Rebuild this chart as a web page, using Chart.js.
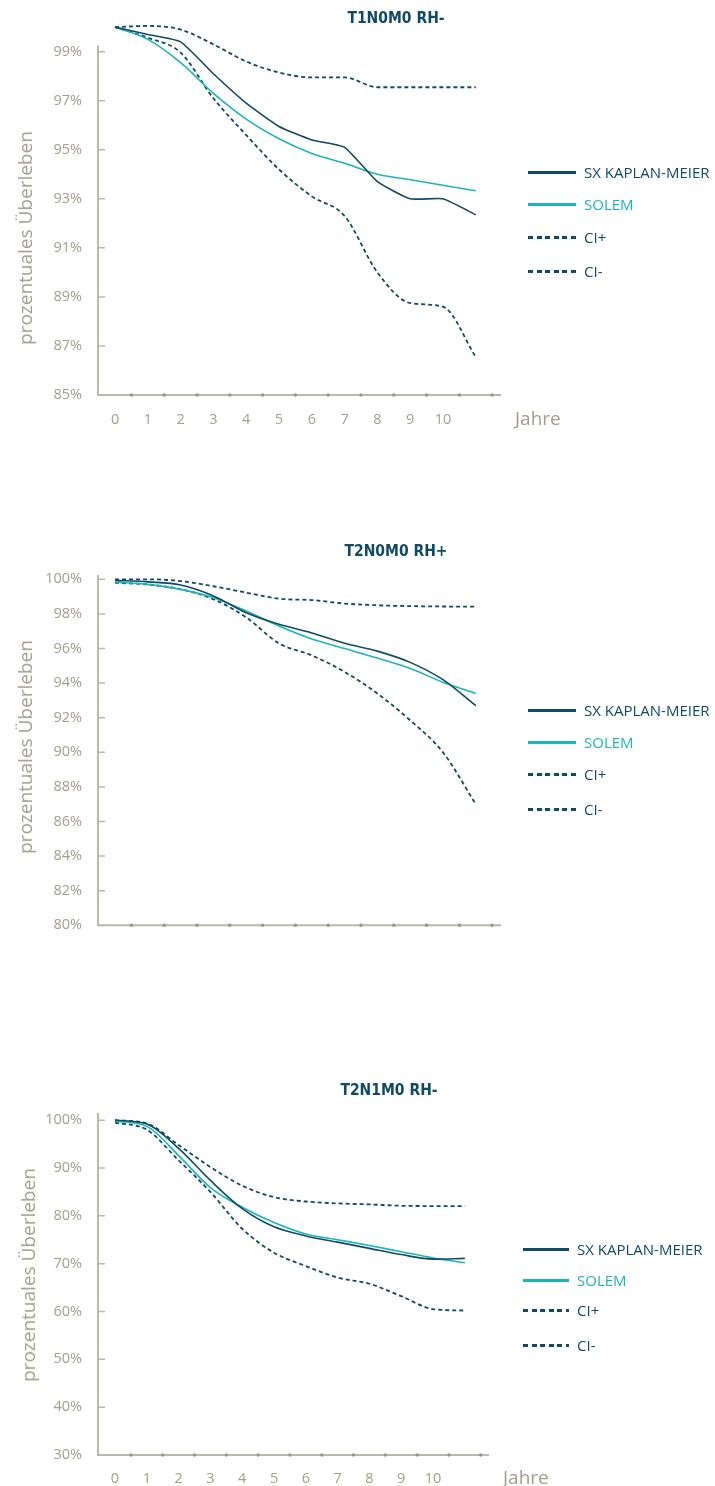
<!DOCTYPE html>
<html>
<head>
<meta charset="utf-8">
<title>Überleben</title>
<script src="https://cdn.jsdelivr.net/npm/chart.js@4.4.0/dist/chart.umd.min.js"></script>
<style>
  body { margin: 0; background: #fff; width: 715px; height: 1486px; position: relative; overflow: hidden; font-family: "Open Sans", sans-serif; }
  .panel { position: absolute; left: 0; width: 715px; }
  .panel canvas { position: absolute; left: 0; top: 0; }
  .title { position: absolute; transform: translate(-50%, -50%); font-family: "DejaVu Sans Condensed", "DejaVu Sans", sans-serif; font-stretch: condensed; font-weight: bold; font-size: 15.5px; color: #0f4a66; white-space: nowrap; }
  .ytitle { position: absolute; transform: translate(-50%, -50%) rotate(-90deg); font-size: 19px; color: #a39f8e; white-space: nowrap; }
  .xtitle { position: absolute; transform: translateY(-50%); font-size: 19px; color: #a39f8e; white-space: nowrap; }
  .legend { position: absolute; }
  .legend .row { position: absolute; left: 0; display: flex; align-items: center; transform: translateY(-50%); white-space: nowrap; font-size: 15px; }
  .legend .swatch { height: 3px; margin-right: 8px; }
</style>
</head>
<body>
<script>
  // data
  const years = [0, 1, 2, 3, 4, 5, 6, 7, 8, 9, 10, 11];
  const yearTicks = [0, 1, 2, 3, 4, 5, 6, 7, 8, 9, 10];
  const seriesNames = ['SX KAPLAN-MEIER', 'SOLEM', 'CI+', 'CI-'];
  const yAxisTitle = 'prozentuales Überleben';
  const xAxisTitle = 'Jahre';

  const t1Title = 'T1N0M0 RH-';
  const t1Ticks = [85, 87, 89, 91, 93, 95, 97, 99];
  const t1Km = [100, 99.7, 99.4, 98.1, 96.9, 95.95, 95.4, 95.1, 93.7, 93.0, 93.0, 92.35];
  const t1Solem = [100, 99.5, 98.55, 97.3, 96.25, 95.45, 94.85, 94.45, 94.0, 93.78, 93.55, 93.33];
  const t1CiPlus = [100, 100.05, 99.9, 99.3, 98.6, 98.15, 97.95, 97.95, 97.55, 97.55, 97.55, 97.55];
  const t1CiMinus = [100, 99.57, 98.96, 97.1, 95.6, 94.2, 93.1, 92.3, 90.0, 88.75, 88.6, 86.55];

  const t2Title = 'T2N0M0 RH+';
  const t2Ticks = [80, 82, 84, 86, 88, 90, 92, 94, 96, 98, 100];
  const t2Km = [99.94, 99.85, 99.67, 99.04, 98.07, 97.4, 96.9, 96.3, 95.85, 95.2, 94.2, 92.7];
  const t2Solem = [99.84, 99.71, 99.42, 98.94, 98.17, 97.3, 96.55, 96.0, 95.45, 94.85, 94.05, 93.4];
  const t2CiPlus = [100, 100, 99.9, 99.6, 99.23, 98.88, 98.8, 98.6, 98.5, 98.45, 98.43, 98.42];
  const t2CiMinus = [99.8, 99.7, 99.42, 98.85, 97.8, 96.3, 95.6, 94.65, 93.4, 91.85, 90.0, 87.0];

  const t3Title = 'T2N1M0 RH-';
  const t3Ticks = [30, 40, 50, 60, 70, 80, 90, 100];
  const t3Km = [100, 99.2, 94.1, 87.4, 81.5, 77.7, 75.8, 74.5, 73.2, 71.9, 70.95, 71.1];
  const t3Solem = [99.8, 98.7, 92.6, 85.9, 81.8, 78.6, 76.2, 75.0, 73.8, 72.5, 71.2, 70.2];
  const t3CiPlus = [100, 99.3, 94.8, 90.2, 86.3, 83.9, 83.0, 82.6, 82.4, 82.1, 82.05, 82.05];
  const t3CiMinus = [99.5, 98.0, 91.6, 85.0, 77.3, 72.3, 69.5, 67.1, 65.8, 63.2, 60.5, 60.2];

  // styles
  const DARK = '#0f4a66';
  const TEAL = '#1bb6b9';
  const GREY = '#a39f8e';
  const AXIS = '#bdb9aa';
  const DOT = '#9b977f';
  const DASH = [4, 3];

  Chart.defaults.font.family = '"Open Sans", sans-serif';

  // axis lines, inward ticks and the little dots on the x axis
  const axisLines = {
    id: 'axisLines',
    beforeDatasetsDraw(chart, args, opts) {
      const { ctx, chartArea: a, scales: { x, y } } = chart;
      ctx.save();
      ctx.strokeStyle = AXIS;
      ctx.lineWidth = 2;
      ctx.beginPath();
      ctx.moveTo(a.left, y.getPixelForValue(opts.top));
      ctx.lineTo(a.left, a.bottom);
      ctx.lineTo(a.right, a.bottom);
      ctx.stroke();
      ctx.lineWidth = 1.5;
      ctx.beginPath();
      y.ticks.forEach(t => {
        const py = y.getPixelForValue(t.value);
        ctx.moveTo(a.left, py);
        ctx.lineTo(a.left + 7, py);
      });
      ctx.stroke();
      ctx.fillStyle = DOT;
      years.forEach(v => {
        ctx.beginPath();
        ctx.arc(x.getPixelForValue(v + 0.5), a.bottom, 1.7, 0, Math.PI * 2);
        ctx.fill();
      });
      ctx.restore();
    }
  };

  function addText(parent, cls, text, left, top) {
    const el = document.createElement('div');
    el.className = cls;
    el.textContent = text;
    el.style.left = left + 'px';
    el.style.top = top + 'px';
    parent.appendChild(el);
    return el;
  }

  function makePanel(p) {
    const panel = document.createElement('div');
    panel.className = 'panel';
    panel.style.top = p.top + 'px';
    panel.style.height = p.height + 'px';
    document.body.appendChild(panel);

    const canvas = document.createElement('canvas');
    canvas.width = 715;
    canvas.height = p.height;
    panel.appendChild(canvas);

    const series = [p.km, p.solem, p.ciPlus, p.ciMinus];
    const colors = [DARK, TEAL, DARK, DARK];
    const dashed = [false, false, true, true];

    new Chart(canvas.getContext('2d'), {
      type: 'line',
      data: {
        datasets: series.map((vals, i) => ({
          label: seriesNames[i],
          data: years.map((yr, j) => ({ x: yr, y: vals[j] })),
          borderColor: colors[i],
          borderWidth: dashed[i] ? 1.8 : 1.6,
          borderDash: dashed[i] ? DASH : [],
          // the first chart's KM curve has visible corners
          cubicInterpolationMode: (p.straightKm && i === 0) ? 'default' : 'monotone',
          tension: (p.straightKm && i === 0) ? 0.15 : 0,
          pointRadius: 0,
          fill: false
        }))
      },
      options: {
        responsive: false,
        animation: false,
        layout: { padding: { top: p.areaTop, right: 715 - p.areaRight, bottom: 0, left: 0 } },
        plugins: { legend: { display: false }, tooltip: { enabled: false }, axisLines: { top: p.axisTop } },
        scales: {
          x: {
            type: 'linear', min: p.xMin, max: p.xMax,
            grid: { display: false, drawTicks: false }, border: { display: false },
            afterBuildTicks: s => { s.ticks = yearTicks.map(v => ({ value: v })); },
            afterFit: s => { s.height = p.height - p.areaBottom; },
            ticks: { display: p.showX, padding: p.xPad, color: GREY, font: { size: 14.5 }, maxRotation: 0, callback: v => String(v) }
          },
          y: {
            min: p.yMin, max: p.yMax,
            grid: { display: false, drawTicks: false }, border: { display: false },
            afterBuildTicks: s => { s.ticks = p.ticks.map(v => ({ value: v })); },
            afterFit: s => { s.width = 98; },
            ticks: { padding: 16, color: GREY, font: { size: 14.5 }, callback: v => v + '%' }
          }
        }
      },
      plugins: [axisLines]
    });

    addText(panel, 'title', p.title, p.titleX, p.titleY);
    addText(panel, 'ytitle', yAxisTitle, p.yTitleX, p.yTitleY);
    if (p.showX) addText(panel, 'xtitle', xAxisTitle, p.xTitleX, p.xTitleY);

    const legend = document.createElement('div');
    legend.className = 'legend';
    legend.style.left = p.legendX + 'px';
    legend.style.top = '0px';
    panel.appendChild(legend);
    seriesNames.forEach((name, i) => {
      const row = document.createElement('div');
      row.className = 'row';
      row.style.top = p.legendRows[i] + 'px';
      row.style.color = colors[i];
      const sw = document.createElement('span');
      sw.className = 'swatch';
      sw.style.width = p.swatchW + 'px';
      sw.style.background = dashed[i]
        ? `repeating-linear-gradient(90deg, ${colors[i]} 0 5px, transparent 5px 8.6px)`
        : colors[i];
      row.appendChild(sw);
      row.appendChild(document.createTextNode(name));
      legend.appendChild(row);
    });
  }

  makePanel({
    title: t1Title, km: t1Km, solem: t1Solem, ciPlus: t1CiPlus, ciMinus: t1CiMinus, ticks: t1Ticks,
    top: 0, height: 440, areaTop: 22, areaBottom: 395, areaRight: 501, straightKm: true,
    yMin: 85, yMax: 100.1, axisTop: 99.25, xMin: -0.52, xMax: 11.77, showX: true, xPad: 16,
    titleX: 396, titleY: 18, yTitleX: 25, yTitleY: 238, xTitleX: 515, xTitleY: 418,
    legendX: 528, swatchW: 48, legendRows: [172, 204, 237, 271]
  });

  makePanel({
    title: t2Title, km: t2Km, solem: t2Solem, ciPlus: t2CiPlus, ciMinus: t2CiMinus, ticks: t2Ticks,
    top: 530, height: 420, areaTop: 45, areaBottom: 399, areaRight: 501,
    yMin: 80, yMax: 100.25, axisTop: 100.25, xMin: -0.52, xMax: 11.77, showX: false, xPad: 16,
    titleX: 396, titleY: 21, yTitleX: 25, yTitleY: 217,
    legendX: 528, swatchW: 48, legendRows: [180, 212, 244, 279]
  });

  makePanel({
    title: t3Title, km: t3Km, solem: t3Solem, ciPlus: t3CiPlus, ciMinus: t3CiMinus, ticks: t3Ticks,
    top: 1070, height: 416, areaTop: 43, areaBottom: 385, areaRight: 489,
    yMin: 30, yMax: 101.5, axisTop: 101.5, xMin: -0.535, xMax: 11.76, showX: true, xPad: 15,
    titleX: 389, titleY: 20, yTitleX: 28, yTitleY: 205, xTitleX: 503, xTitleY: 407,
    legendX: 523, swatchW: 46, legendRows: [179, 210, 240, 275]
  });
</script>
</body>
</html>
